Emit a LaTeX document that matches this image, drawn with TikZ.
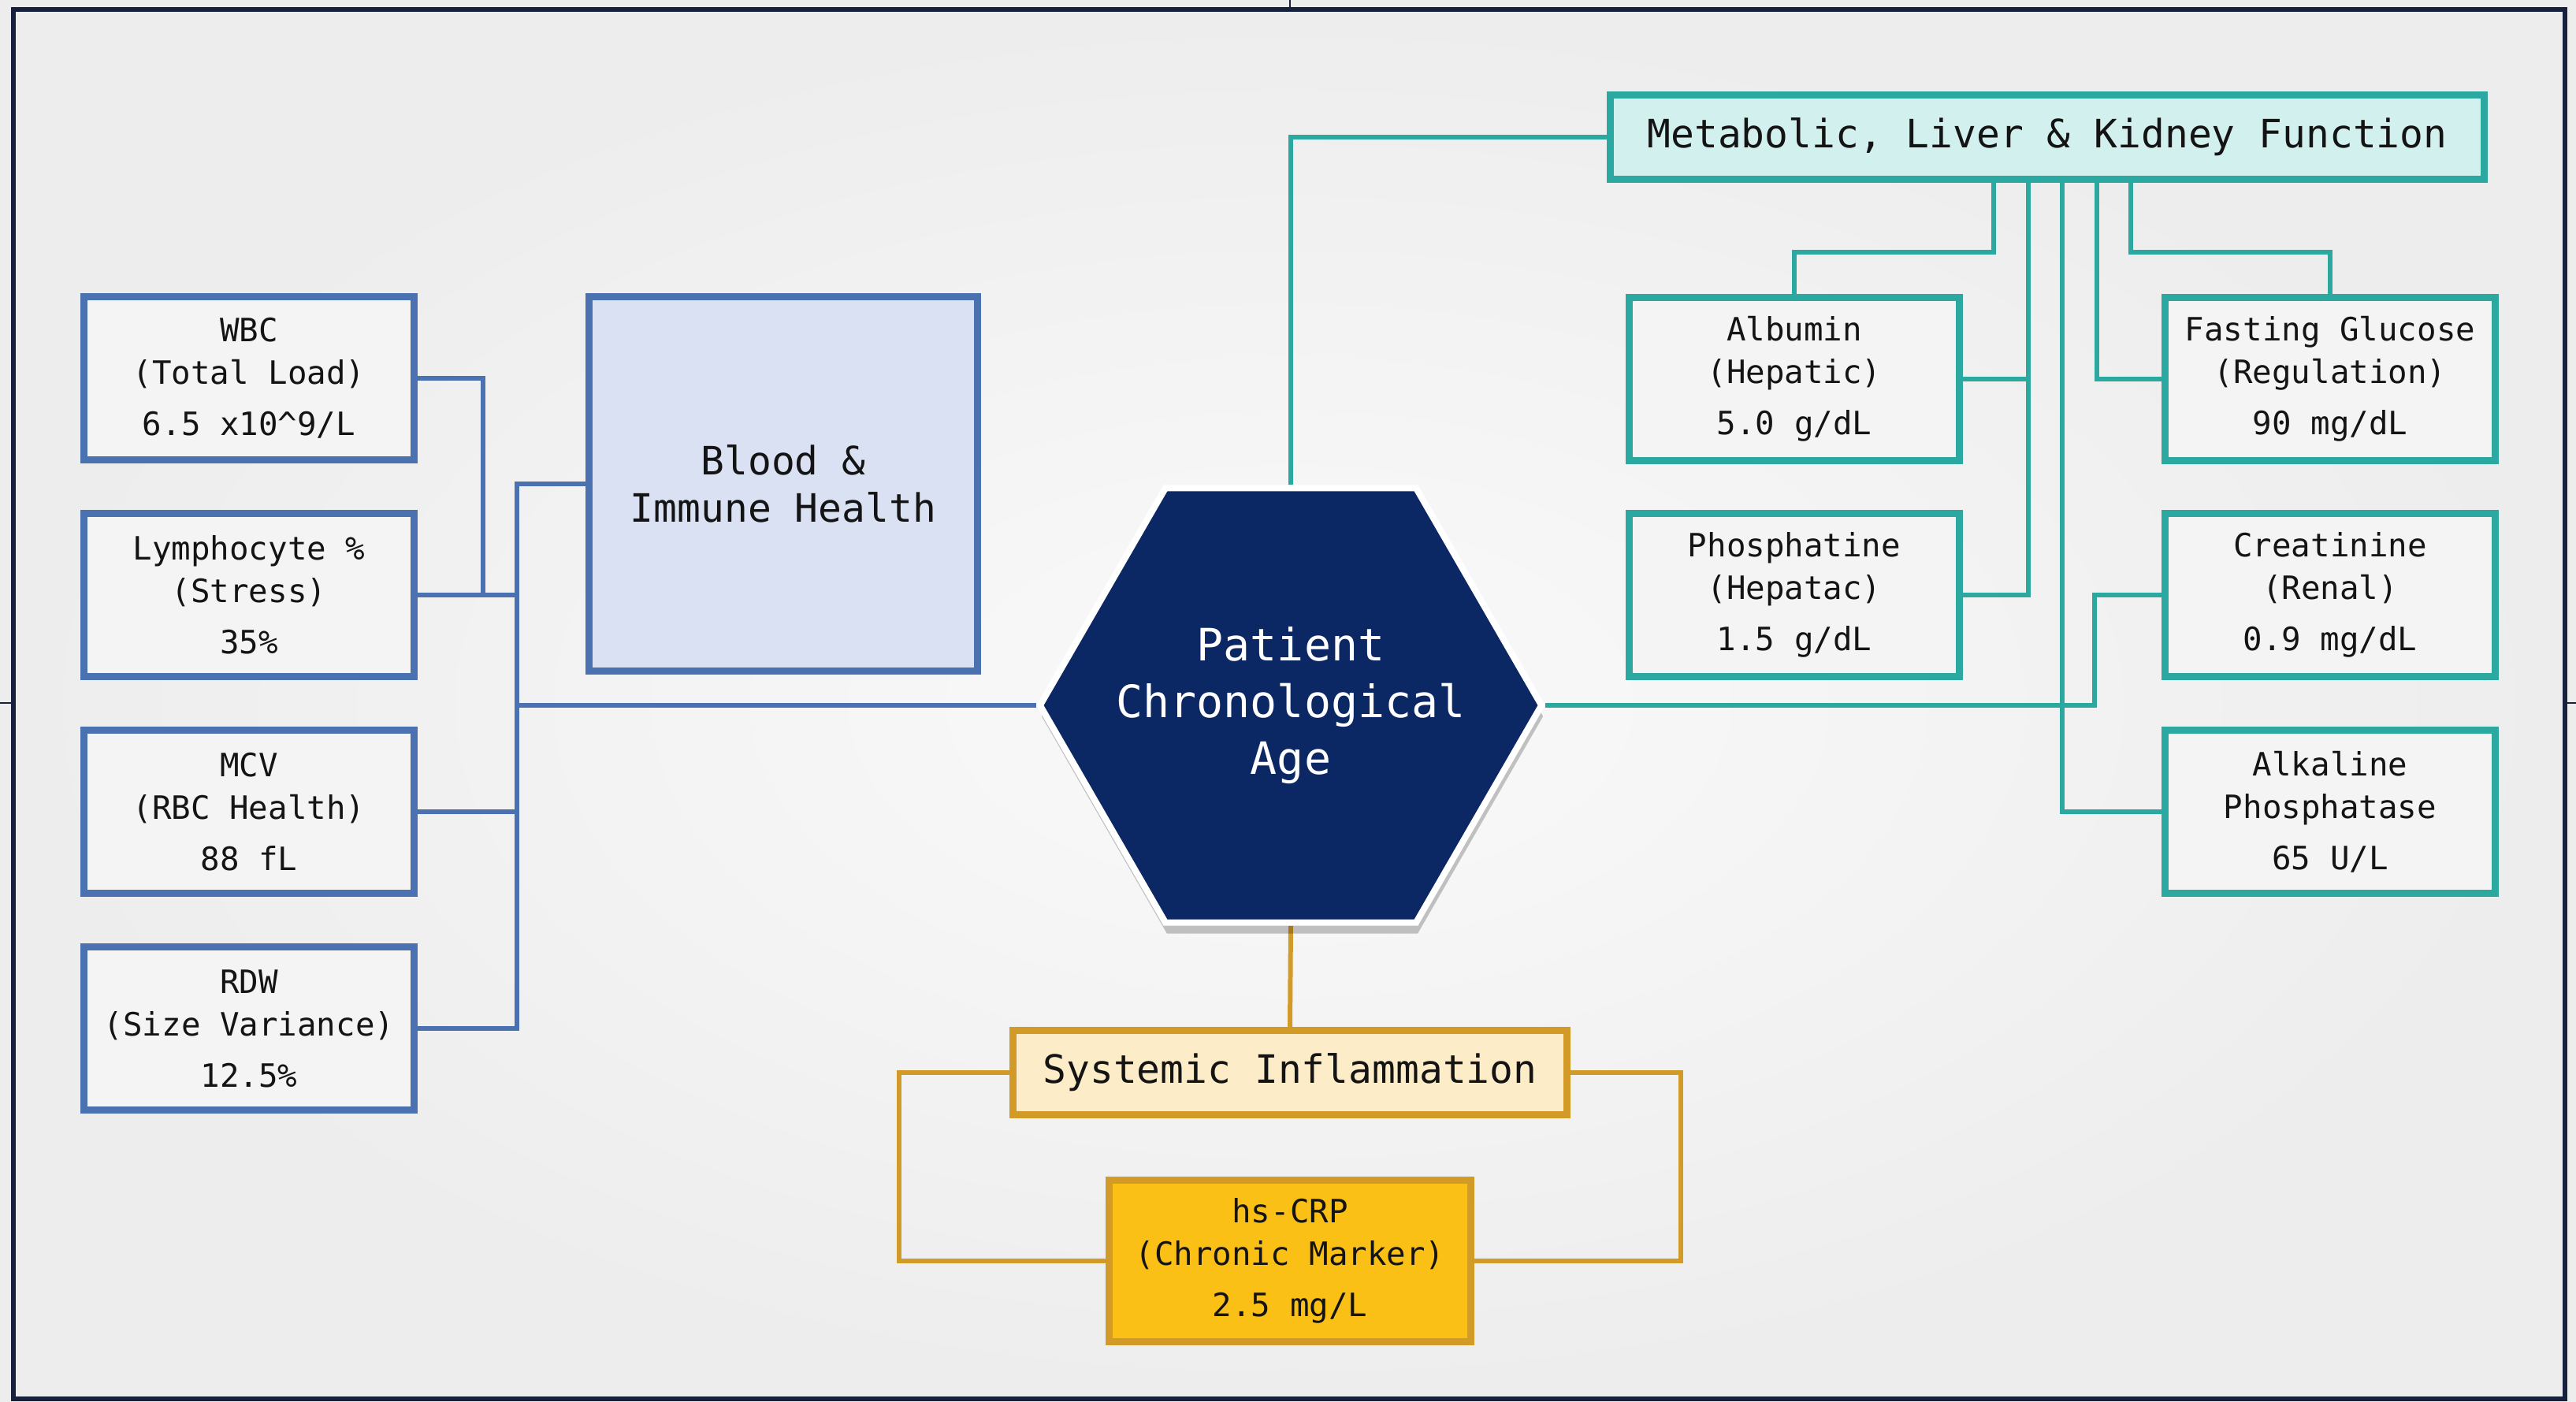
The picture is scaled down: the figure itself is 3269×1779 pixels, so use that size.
\documentclass[tikz,border=0pt]{standalone}
\usepackage{fontspec}
\setmonofont{DejaVu Sans Mono}
\usetikzlibrary{shapes.geometric,shadows,calc}
\pgfdeclarelayer{bgl}
\pgfdeclarelayer{lines}
\pgfsetlayers{bgl,lines,main}
\definecolor{framec}{HTML}{16213E}
\definecolor{bgin}{HTML}{FAFAFA}
\definecolor{bgout}{HTML}{EDEDEE}
\definecolor{blueL}{HTML}{4A72B0}
\definecolor{bloodfill}{HTML}{D9E1F2}
\definecolor{boxfill}{HTML}{F4F4F5}
\definecolor{tealL}{HTML}{2BA8A0}
\definecolor{tealfill}{HTML}{D2F0EE}
\definecolor{goldL}{HTML}{D29B28}
\definecolor{sysfill}{HTML}{FCECC8}
\definecolor{crpfill}{HTML}{FBC016}
\definecolor{navy}{HTML}{0C2864}
\definecolor{txt}{HTML}{141414}
\newcommand{\myfsmall}{\ttfamily\fontsize{11.6}{15.4}\selectfont}
\newcommand{\myftitle}{\ttfamily\fontsize{14.1}{17}\selectfont}
\newcommand{\myfhex}{\ttfamily\fontsize{16.1}{20.5}\selectfont}
\tikzset{
  boxbase/.style={rectangle, line width=2.56pt, inner sep=0pt, align=center, text=txt},
  bbox/.style={boxbase, draw=blueL, fill=boxfill, minimum width=4.19cm, minimum height=2.06cm, font=\myfsmall},
  bigbox/.style={boxbase, draw=blueL, fill=bloodfill, minimum width=4.92cm, minimum height=4.75cm, font=\myftitle},
  tbox/.style={boxbase, draw=tealL, fill=boxfill, minimum width=4.19cm, minimum height=2.06cm, font=\myfsmall},
  titlebox/.style={boxbase, draw=tealL, fill=tealfill, minimum width=11.09cm, minimum height=1.07cm, font=\myftitle},
  sysbox/.style={boxbase, draw=goldL, fill=sysfill, minimum width=7.03cm, minimum height=1.07cm, font=\myftitle},
  crpbox/.style={boxbase, draw=goldL, fill=crpfill, minimum width=4.59cm, minimum height=2.05cm, font=\myfsmall},
  hexnode/.style={regular polygon, regular polygon sides=6, minimum size=6.36cm, fill=navy, draw=white, line width=2.3pt, inner sep=0pt},
  hextext/.style={inner sep=0pt, align=center, text=white, font=\myfhex},
  bl/.style={draw=blueL, line width=1.7pt},
  tl/.style={draw=tealL, line width=1.7pt},
  gl/.style={draw=goldL, line width=1.7pt}
}
\begin{document}
\begin{tikzpicture}[x=0.01cm,y=-0.01cm]
\useasboundingbox (0,0) rectangle (3269,1779);
\begin{pgfonlayer}{bgl}
  \fill[bgout] (0,0) rectangle (3269,1779);
  \shade[inner color=bgin, outer color=bgout] (17,12) rectangle (3255,1775);
  \draw[framec, line width=1.8pt] (17,12) rectangle (3255,1775);
  \draw[framec, line width=0.8pt] (1637,0) -- (1637,12);
  \draw[framec, line width=0.8pt] (0,892) -- (17,892);
  \draw[framec, line width=0.8pt] (3255,892) -- (3269,892);
\end{pgfonlayer}

% left column
\node[bbox] (wbc) at (316,480) {WBC\\(Total Load)\\[3pt]6.5 x10\textasciicircum 9/L};
\node[bbox] (lym) at (316,755) {Lymphocyte \%\\(Stress)\\[3pt]35\%};
\node[bbox] (mcv) at (316,1030) {MCV\\(RBC Health)\\[3pt]88 fL};
\node[bbox] (rdw) at (316,1305) {RDW\\(Size Variance)\\[3pt]12.5\%};
\node[bigbox] (blood) at (994,614) {Blood \&\\Immune Health};

% center
\node[hexnode, drop shadow={shadow xshift=0.02cm, shadow yshift=-0.14cm, opacity=0.22, fill=black}] (hex) at (1638,895) {};
\node[hextext] (hexlabel) at (hex.center) {Patient\\Chronological\\Age};

% right
\node[titlebox] (meta) at (2598,174) {Metabolic, Liver \& Kidney Function};
\node[tbox] (alb) at (2277,481) {Albumin\\(Hepatic)\\[3pt]5.0 g/dL};
\node[tbox] (glu) at (2957,481) {Fasting Glucose\\(Regulation)\\[3pt]90 mg/dL};
\node[tbox] (pho) at (2277,755) {Phosphatine\\(Hepatac)\\[3pt]1.5 g/dL};
\node[tbox] (cre) at (2957,755) {Creatinine\\(Renal)\\[3pt]0.9 mg/dL};
\node[tbox] (alk) at (2957,1030) {Alkaline\\Phosphatase\\[3pt]65 U/L};

% bottom
\node[sysbox] (sys) at (1637,1361) {Systemic Inflammation};
\node[crpbox] (crp) at (1637,1600) {hs-CRP\\(Chronic Marker)\\[3pt]2.5 mg/L};

% junction coordinates
\coordinate (tL) at (656,895);
\coordinate (wj) at (613,755);
\coordinate (v1) at ($(meta.south)+(-68,0)$);
\coordinate (v2) at ($(meta.south)+(-24,0)$);
\coordinate (v3) at ($(meta.south)+(19,0)$);
\coordinate (v4) at ($(meta.south)+(63,0)$);
\coordinate (v5) at ($(meta.south)+(106,0)$);
\coordinate (cj) at ($(cre.west)+(-85,0)$);

\begin{pgfonlayer}{lines}
  % left
  \draw[bl] (wbc.east) -| (wj);
  \draw[bl] (lym.east) -- (lym.east -| tL);
  \draw[bl] (mcv.east) -- (mcv.east -| tL);
  \draw[bl] (rdw.east) -| (tL);
  \draw[bl] (blood.west) -| (tL) -- (hex.west);
  % top right
  \draw[tl] (meta.west) -| (hex.north);
  \draw[tl] (v1) -- ++(0,88) -| (alb.north);
  \draw[tl] (v5) -- ++(0,88) -| (glu.north);
  \draw[tl] (v2) |- (pho.east);
  \draw[tl] (alb.east) -- (alb.east -| v2);
  \draw[tl] (v3) |- (alk.west);
  \draw[tl] (v4) |- (glu.west);
  \draw[tl] (hex.east) -| (cj) -- (cre.west);
  % bottom
  \draw[gl] (hex.south) -- (sys.north);
  \draw[gl] (sys.west) -- ++(-140,0) |- (crp.west);
  \draw[gl] (sys.east) -- ++(140,0) |- (crp.east);
\end{pgfonlayer}
\end{tikzpicture}
\end{document}
